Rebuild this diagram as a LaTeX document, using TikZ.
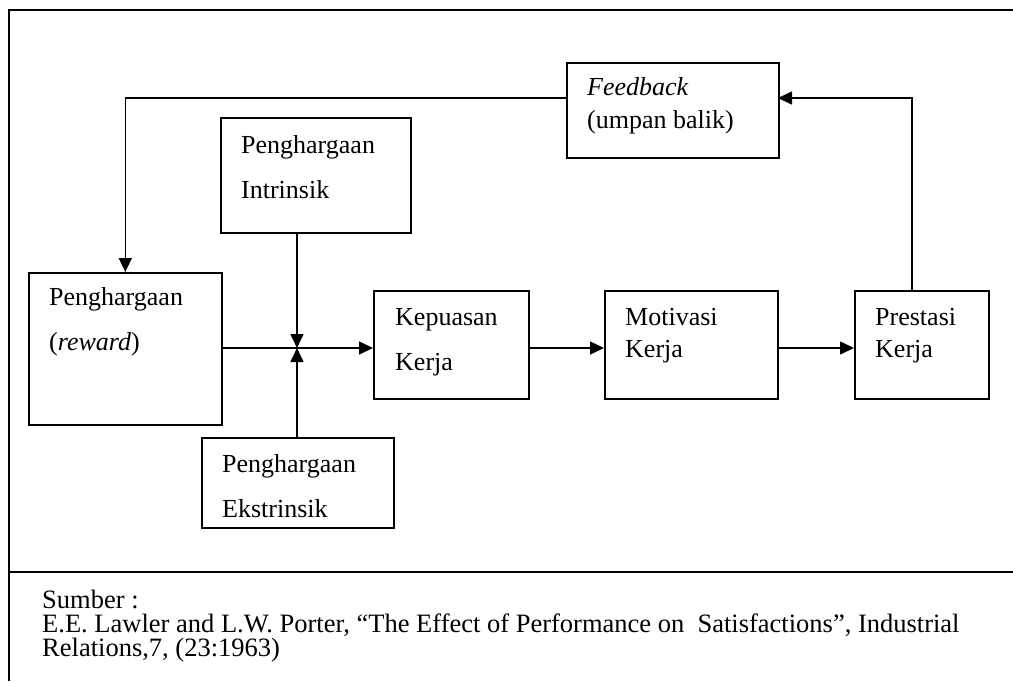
\documentclass[tikz,border=0pt]{standalone}
\usepackage{fontspec}
\setmainfont{Liberation Serif}
\usetikzlibrary{arrows.meta}
\begin{document}
\begin{tikzpicture}[x=1pt,y=-1pt,
  box/.style={draw,line width=1.6pt,rectangle,anchor=north west,inner sep=0pt},
  lbl/.style={anchor=base west,inner sep=0pt,font=\fontsize{26}{31}\selectfont},
  src/.style={anchor=base west,inner sep=0pt,font=\fontsize{26.5}{30}\selectfont},
  conn/.style={line width=1.6pt},
  arr/.style={conn,-{Triangle[length=14pt,width=13pt]}},
  frame/.style={line width=2pt}]
\useasboundingbox (0,0) rectangle (1013,681);
% frame
\draw[frame] (9,681) -- (9,10) -- (1013,10);
\draw[frame] (9,572) -- (1013,572);
% boxes
\node[box,minimum width=212pt,minimum height=95pt] (fb) at (566,62) {};
\node[box,minimum width=190pt,minimum height=115pt] (intr) at (220,117) {};
\node[box,minimum width=193pt,minimum height=152pt] (rew) at (28,272) {};
\node[box,minimum width=155pt,minimum height=108pt] (kep) at (373,290) {};
\node[box,minimum width=173pt,minimum height=108pt] (mot) at (604,290) {};
\node[box,minimum width=134pt,minimum height=108pt] (pre) at (854,290) {};
\node[box,minimum width=192pt,minimum height=90pt] (eks) at (201,437) {};
% labels
\node[lbl] (t1) at (587,95) {\itshape Feedback};
\node[lbl] (t2) at (587,128) {(umpan balik)};
\node[lbl] (t3) at (241,153) {Penghargaan};
\node[lbl] (t4) at (241,198) {Intrinsik};
\node[lbl] (t5) at (49,305) {Penghargaan};
\node[lbl] (t6) at (49,350) {(\textit{reward})};
\node[lbl] (t7) at (222,472) {Penghargaan};
\node[lbl] (t8) at (222,517) {Ekstrinsik};
\node[lbl] (t9) at (395,325) {Kepuasan};
\node[lbl] (t10) at (395,370) {Kerja};
\node[lbl] (t11) at (625,325) {Motivasi};
\node[lbl] (t12) at (625,357) {Kerja};
\node[lbl] (t13) at (875,325) {Prestasi};
\node[lbl] (t14) at (875,357) {Kerja};
\node[src] (s1) at (42,608) {Sumber :};
\node[src] (s2) at (42,632) {E.E. Lawler and L.W. Porter, “The Effect of Performance on\ \ Satisfactions”, Industrial};
\node[src] (s3) at (42,656) {Relations,7, (23:1963)};
% connectors
\coordinate (J) at (297,348);
\coordinate (fbL) at (566,98);
\coordinate (fbR) at (778,98);
\coordinate (preT) at (912,290);
\draw[arr] (fbL) -| (rew.north);
\draw[arr] (preT) |- (fbR);
\draw[arr] (intr.south -| J) -- (J);
\draw[arr] (eks.north -| J) -- (J);
\draw[arr] (rew.east |- J) -- (kep.west |- J);
\draw[arr] (kep.east |- J) -- (mot.west |- J);
\draw[arr] (mot.east |- J) -- (pre.west |- J);
\end{tikzpicture}
\end{document}
